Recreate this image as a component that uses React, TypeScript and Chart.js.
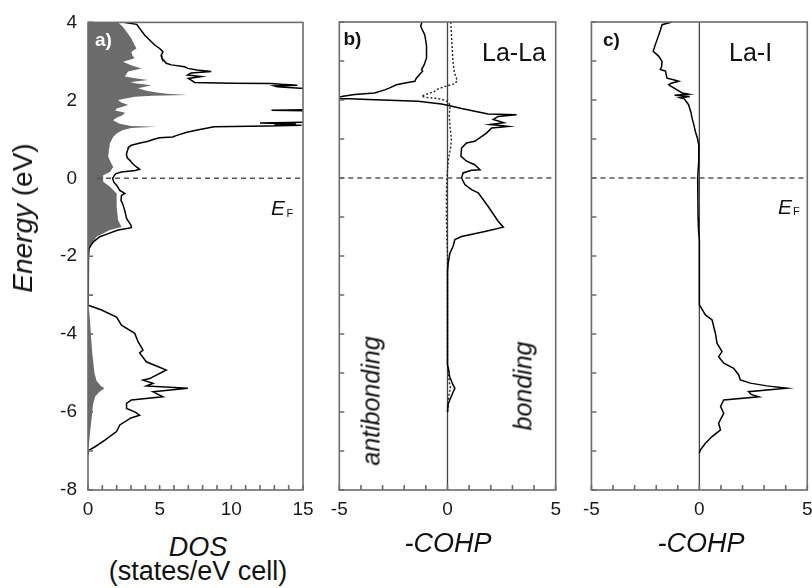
import React, { useEffect, useRef } from "react";
import { Chart, registerables } from "chart.js";

Chart.register(...registerables);

// ---------------- data ----------------
const ENERGY_MIN = -8;
const ENERGY_MAX = 4;
const ENERGY_TICKS = [-8, -6, -4, -2, 0, 2, 4];
const DOS_TICKS = [0, 5, 10, 15];
const COHP_TICKS = [-5, 0, 5];
const FERMI_LEVEL = 0;

// [energy (eV), total DOS]
const DOS_TOTAL: [number, number][] = [
  [4.0, 2.57], [3.95, 3.4], [3.8, 3.7], [3.67, 3.96], [3.55, 4.3], [3.42, 4.65], [3.33, 5.0], [3.25, 5.23],
  [3.15, 5.1], [3.08, 5.16], [2.95, 5.46], [2.91, 5.81], [2.86, 6.74], [2.82, 6.97], [2.78, 7.6], [2.74, 8.6],
  [2.7, 7.2], [2.65, 6.95], [2.61, 7.9], [2.56, 7.0], [2.52, 7.2], [2.46, 7.43], [2.44, 10.0], [2.43, 12.75],
  [2.41, 13.5], [2.39, 14.6], [2.37, 13.0], [2.35, 13.2], [2.31, 14.8], [2.28, 18], [1.8, 18], [1.76, 15.5],
  [1.745, 12.8], [1.73, 15.5], [1.7, 18], [1.45, 18], [1.43, 14], [1.42, 12.0], [1.4, 14.5], [1.38, 13],
  [1.36, 14.9], [1.34, 12.5], [1.32, 8.8], [1.25, 7.8], [1.18, 6.9], [1.1, 6.2], [1.06, 5.9], [1.04, 5.0],
  [1.0, 4.6], [0.95, 4.2], [0.93, 3.96], [0.89, 3.5], [0.85, 3.03], [0.8, 2.85], [0.76, 2.8], [0.65, 2.7],
  [0.59, 2.69], [0.52, 2.75], [0.46, 2.92], [0.38, 3.1], [0.29, 3.38], [0.23, 3.6], [0.2, 3.3], [0.16, 2.34],
  [0.12, 1.95], [0.08, 1.85], [0.0, 1.72], [-0.1, 1.8], [-0.18, 2.0], [-0.31, 2.22], [-0.39, 2.57], [-0.44, 2.34],
  [-0.56, 2.3], [-0.69, 2.45], [-0.85, 2.58], [-1.03, 2.69], [-1.2, 2.99], [-1.27, 3.03], [-1.33, 2.1], [-1.42, 1.41],
  [-1.5, 0.83], [-1.63, 0.37], [-1.8, 0.07], [-2.06, 0.03], [-2.3, 0], [-3.2, 0], [-3.26, 0.05], [-3.38, 0.95],
  [-3.56, 1.99], [-3.77, 2.34], [-3.98, 3.26], [-4.2, 3.5], [-4.41, 3.84], [-4.48, 3.6], [-4.71, 4.07], [-4.92, 5.46],
  [-5.14, 4.3], [-5.18, 3.84], [-5.26, 4.54], [-5.33, 4.07], [-5.39, 6.97], [-5.48, 4.54], [-5.61, 5.23], [-5.69, 3.03],
  [-5.78, 2.69], [-5.91, 2.69], [-6.0, 3.3], [-6.08, 3.6], [-6.15, 3.0], [-6.33, 2.22], [-6.5, 1.99], [-6.72, 1.18],
  [-6.89, 0.49], [-6.99, 0.02], [-7.1, 0],
];

// [energy (eV), La partial DOS] (grey area)
const DOS_LA: [number, number][] = [
  [4.0, 2.1], [3.9, 2.4], [3.76, 2.69], [3.59, 3.03], [3.45, 3.2], [3.33, 3.38], [3.25, 3.03], [3.15, 3.1],
  [3.08, 3.26], [2.99, 2.45], [2.9, 3.0], [2.82, 3.73], [2.74, 2.8], [2.61, 2.57], [2.56, 3.4], [2.52, 4.19],
  [2.47, 3.0], [2.44, 3.26], [2.39, 4.42], [2.31, 3.5], [2.25, 4.0], [2.21, 4.65], [2.17, 5.5], [2.14, 6.96],
  [2.12, 4.5], [2.09, 3.26], [2.01, 2.1], [1.95, 2.3], [1.88, 2.8], [1.79, 2.0], [1.74, 1.9], [1.68, 2.6],
  [1.62, 2.4], [1.55, 2.0], [1.49, 1.75], [1.4, 2.2], [1.34, 3.0], [1.32, 4.77], [1.29, 3.0], [1.23, 2.4],
  [1.15, 2.0], [1.06, 1.75], [0.89, 1.53], [0.7, 1.45], [0.55, 1.41], [0.4, 1.6], [0.29, 1.76], [0.16, 1.53],
  [0.08, 1.06], [-0.09, 1.06], [-0.22, 1.53], [-0.39, 2.0], [-0.74, 2.0], [-1.08, 2.1], [-1.25, 2.34], [-1.33, 1.53],
  [-1.5, 0.6], [-1.67, 0.26], [-1.93, 0.02], [-2.1, 0], [-3.25, 0], [-3.4, 0.08], [-3.7, 0.15], [-4.0, 0.2],
  [-4.5, 0.3], [-5.0, 0.45], [-5.2, 0.6], [-5.33, 0.9], [-5.39, 1.15], [-5.48, 0.8], [-5.6, 0.5], [-5.8, 0.35],
  [-6.0, 0.3], [-6.5, 0.15], [-6.9, 0.05], [-7.0, 0],
];

// [energy (eV), -COHP La-La] (solid)
const COHP_LALA: [number, number][] = [
  [4.0, -1.18], [3.89, -1.24], [3.67, -1.05], [3.4, -0.97], [3.25, -0.97], [3.08, -0.97], [2.9, -1.08], [2.78, -1.2],
  [2.74, -1.15], [2.65, -1.3], [2.56, -1.44], [2.48, -1.51], [2.44, -1.9], [2.39, -2.36], [2.31, -2.67], [2.26, -2.9],
  [2.18, -3.37], [2.14, -4.29], [2.09, -4.9], [2.06, -5.5], [2.04, -5.5], [2.03, -4.5], [2.01, -3.67], [1.97, -1.36],
  [1.9, -0.28], [1.85, 0.11], [1.78, 0.65], [1.71, 1.26], [1.64, 1.88], [1.62, 3.19], [1.58, 2.34], [1.5, 2.11],
  [1.42, 2.6], [1.37, 1.96], [1.35, 2.34], [1.32, 2.81], [1.28, 2.04], [1.15, 1.8], [0.94, 1.26], [0.9, 0.88],
  [0.77, 0.65], [0.56, 0.62], [0.43, 0.88], [0.34, 1.26], [0.21, 1.5], [0.2, 1.11], [0.13, 0.72], [0.0, 0.65],
  [-0.17, 0.8], [-0.3, 1.11], [-0.38, 1.42], [-0.73, 1.88], [-1.11, 2.34], [-1.26, 2.58], [-1.37, 1.73], [-1.5, 0.65],
  [-1.58, 0.34], [-1.75, 0.26], [-1.93, 0.11], [-2.19, 0.03], [-2.4, 0], [-4.8, 0], [-4.9, 0.05], [-5.1, 0.1],
  [-5.3, 0.25], [-5.39, 0.34], [-5.5, 0.25], [-5.7, 0.1], [-5.8, 0.03], [-6.0, 0],
];

// [energy (eV), -COHP La-La] (dotted)
const COHP_LALA_DOTTED: [number, number][] = [
  [4.0, 0.15], [3.5, 0.2], [3.0, 0.25], [2.7, 0.32], [2.5, 0.45], [2.42, 0.35], [2.35, -0.1], [2.28, -0.45],
  [2.22, -0.6], [2.16, -0.9], [2.12, -1.1], [2.09, -1.2], [2.06, -0.9], [2.04, -0.5], [2.0, -0.15], [1.95, 0.05],
  [1.85, 0.12], [1.6, 0.08], [1.3, 0.12], [1.0, 0.18], [0.8, 0.15], [0.5, 0.05], [0.2, 0.0], [0.0, -0.03],
  [-0.5, -0.05], [-1.0, -0.05], [-1.5, -0.03], [-2.0, 0], [-4.8, 0], [-5.3, 0.1], [-5.4, 0.15], [-5.5, 0.08],
  [-6.0, 0],
];

// [energy (eV), -COHP La-I]
const COHP_LAI: [number, number][] = [
  [4.0, -1.27], [3.93, -1.73], [3.8, -1.8], [3.67, -1.88], [3.42, -2.04], [3.25, -2.14], [3.12, -1.88], [2.99, -1.73],
  [2.85, -1.75], [2.78, -1.81], [2.74, -1.57], [2.56, -1.5], [2.52, -1.2], [2.48, -0.96], [2.43, -1.3], [2.39, -1.42],
  [2.3, -1.15], [2.26, -1.03], [2.18, -0.8], [2.15, -0.5], [2.12, -1.15], [2.09, -0.45], [2.06, -0.9], [2.03, -0.7],
  [1.88, -0.5], [1.7, -0.4], [1.54, -0.34], [1.35, -0.25], [1.2, -0.19], [1.0, -0.08], [0.85, -0.03], [0.43, -0.03],
  [0.0, -0.08], [-0.5, -0.07], [-1.0, -0.06], [-1.33, -0.04], [-1.6, 0], [-3.25, 0], [-3.3, 0.05], [-3.51, 0.28],
  [-3.64, 0.59], [-3.98, 0.74], [-4.24, 0.82], [-4.45, 1.05], [-4.58, 0.89], [-4.75, 1.13], [-4.88, 1.59], [-5.05, 1.82],
  [-5.18, 1.9], [-5.26, 2.36], [-5.33, 3.13], [-5.39, 4.06], [-5.48, 2.28], [-5.55, 2.4], [-5.61, 2.75], [-5.69, 1.13],
  [-5.86, 0.98], [-6.03, 1.13], [-6.29, 0.89], [-6.46, 0.98], [-6.63, 0.59], [-6.8, 0.28], [-6.97, 0.05], [-7.05, 0],
];

// ---------------- chart helpers ----------------
const FONT = '"Liberation Sans", Arial, Helvetica, sans-serif';
const FRAME_COLOR = "#6c6c6c";

const toPoints = (rows: [number, number][]) => rows.map(([e, v]) => ({ x: v, y: e }));

const frameTicks = {
  id: "frameTicks",
  afterDatasetsDraw(chart: any, _args: any, opts: any) {
    const { ctx, chartArea: a, scales } = chart;
    const xs = scales.x;
    const ys = scales.y;
    ctx.save();
    ctx.strokeStyle = FRAME_COLOR;
    ctx.lineWidth = 1.6;
    ctx.beginPath();
    for (let v = xs.min; v <= xs.max + 1e-9; v += opts.xStep) {
      const p = xs.getPixelForValue(v);
      ctx.moveTo(p, a.bottom);
      ctx.lineTo(p, a.bottom - 5);
    }
    for (let v = ys.min; v <= ys.max + 1e-9; v += 1) {
      const p = ys.getPixelForValue(v);
      ctx.moveTo(a.left, p);
      ctx.lineTo(a.left + 5, p);
    }
    ctx.stroke();
    ctx.strokeRect(a.left, a.top, a.right - a.left, a.bottom - a.top);
    ctx.restore();
  },
};

function makeConfig(opts: {
  datasets: any[];
  xMin: number;
  xMax: number;
  xTicks: number[];
  showY: boolean;
  yWidth: number;
  padRight: number;
}) {
  const tickFont = { family: FONT, size: 19 };
  return {
    type: "line",
    data: { datasets: opts.datasets },
    plugins: [frameTicks],
    options: {
      animation: false,
      responsive: false,
      indexAxis: "y",
      layout: { padding: { top: 22, right: opts.padRight, left: 0, bottom: 0 } },
      plugins: {
        legend: { display: false },
        tooltip: { enabled: false },
        frameTicks: { xStep: 1 },
      },
      elements: { point: { radius: 0 }, line: { tension: 0 } },
      scales: {
        x: {
          type: "linear",
          position: "bottom",
          min: opts.xMin,
          max: opts.xMax,
          grid: { display: false, drawTicks: false },
          border: { display: false },
          afterBuildTicks: (s: any) => {
            s.ticks = opts.xTicks.map((v) => ({ value: v }));
          },
          afterFit: (s: any) => {
            s.height = 40;
          },
          ticks: {
            padding: 8,
            font: tickFont,
            color: "#1a1a1a",
            maxRotation: 0,
            autoSkip: false,
            callback: (v: any) => String(v),
          },
        },
        y: {
          type: "linear",
          position: "left",
          min: ENERGY_MIN,
          max: ENERGY_MAX,
          grid: { display: false, drawTicks: false },
          border: { display: false },
          afterBuildTicks: (s: any) => {
            s.ticks = ENERGY_TICKS.map((v) => ({ value: v }));
          },
          afterFit: (s: any) => {
            s.width = opts.yWidth;
          },
          ticks: {
            display: opts.showY,
            padding: 11,
            font: tickFont,
            color: "#1a1a1a",
            autoSkip: false,
            callback: (v: any) => String(v),
          },
        },
      },
    },
  };
}

const fermiLine = (xMin: number, xMax: number) => ({
  data: [
    { x: xMin, y: FERMI_LEVEL },
    { x: xMax, y: FERMI_LEVEL },
  ],
  borderColor: "#555555",
  borderWidth: 1.5,
  borderDash: [5, 4],
  pointRadius: 0,
  fill: false,
});

const zeroLine = () => ({
  data: [
    { x: 0, y: ENERGY_MIN },
    { x: 0, y: ENERGY_MAX },
  ],
  borderColor: "#444444",
  borderWidth: 1.3,
  pointRadius: 0,
  fill: false,
});

const curve = (rows: [number, number][], extra: any = {}) => ({
  data: toPoints(rows),
  borderColor: "#000000",
  borderWidth: 1.5,
  pointRadius: 0,
  fill: false,
  ...extra,
});

// ---------------- component ----------------
const txt = (extra: React.CSSProperties): React.CSSProperties => ({
  position: "absolute",
  lineHeight: 1,
  whiteSpace: "nowrap",
  color: "#111",
  fontFamily: FONT,
  ...extra,
});

export default function App() {
  const refA = useRef<HTMLCanvasElement>(null);
  const refB = useRef<HTMLCanvasElement>(null);
  const refC = useRef<HTMLCanvasElement>(null);

  useEffect(() => {
    const charts: Chart[] = [];
    if (refA.current) {
      charts.push(
        new Chart(
          refA.current,
          makeConfig({
            datasets: [
              fermiLine(0, 15),
              curve(DOS_TOTAL),
              curve(DOS_LA, { borderWidth: 0, borderColor: "rgba(0,0,0,0)", fill: "origin", backgroundColor: "#6b6b6b" }),
            ],
            xMin: 0,
            xMax: 15,
            xTicks: DOS_TICKS,
            showY: true,
            yWidth: 88,
            padRight: 27,
          }) as any
        )
      );
    }
    if (refB.current) {
      charts.push(
        new Chart(
          refB.current,
          makeConfig({
            datasets: [
              fermiLine(-5, 5),
              curve(COHP_LALA),
              curve(COHP_LALA_DOTTED, { borderDash: [2, 2], borderWidth: 1.4, borderColor: "#222" }),
              zeroLine(),
            ],
            xMin: -5,
            xMax: 5,
            xTicks: COHP_TICKS,
            showY: false,
            yWidth: 19.3,
            padRight: 24.3,
          }) as any
        )
      );
    }
    if (refC.current) {
      charts.push(
        new Chart(
          refC.current,
          makeConfig({
            datasets: [fermiLine(-5, 5), curve(COHP_LAI), zeroLine()],
            xMin: -5,
            xMax: 5,
            xTicks: COHP_TICKS,
            showY: false,
            yWidth: 16,
            padRight: 17.7,
          }) as any
        )
      );
    }
    return () => charts.forEach((c) => c.destroy());
  }, []);

  return (
    <div
      style={{
        position: "absolute",
        left: 0,
        top: 0,
        width: 812,
        height: 588,
        overflow: "hidden",
        background: "#ffffff",
        fontFamily: FONT,
      }}
    >
      <canvas ref={refA} width={330} height={530} style={{ position: "absolute", left: 0, top: 0 }} />
      <canvas ref={refB} width={260} height={530} style={{ position: "absolute", left: 320, top: 0 }} />
      <canvas ref={refC} width={250} height={530} style={{ position: "absolute", left: 575, top: 0 }} />

      {/* y axis title */}
      <div
        style={txt({
          left: 23,
          top: 218,
          fontSize: 28,
          transform: "translate(-50%, -50%) rotate(-90deg)",
        })}
      >
        <i>Energy</i> (eV)
      </div>

      {/* x axis titles */}
      <div style={txt({ left: 198, top: 533.5, fontSize: 27, fontStyle: "italic", transform: "translateX(-50%)" })}>DOS</div>
      <div style={txt({ left: 198, top: 558, fontSize: 27, transform: "translateX(-50%)" })}>(states/eV cell)</div>
      <div style={txt({ left: 448, top: 530, fontSize: 27, fontStyle: "italic", transform: "translateX(-50%)" })}>-COHP</div>
      <div style={txt({ left: 701, top: 530, fontSize: 27, fontStyle: "italic", transform: "translateX(-50%)" })}>-COHP</div>

      {/* panel labels */}
      <div style={txt({ left: 95, top: 30, fontSize: 19, fontWeight: "bold", color: "#ffffff" })}>a)</div>
      <div style={txt({ left: 343.5, top: 28.5, fontSize: 19, fontWeight: "bold" })}>b)</div>
      <div style={txt({ left: 603, top: 30, fontSize: 19, fontWeight: "bold" })}>c)</div>
      <div style={txt({ left: 482, top: 40, fontSize: 25 })}>La-La</div>
      <div style={txt({ left: 729, top: 40, fontSize: 25 })}>La-I</div>

      {/* bonding labels */}
      <div
        style={txt({
          left: 370.7,
          top: 401,
          fontSize: 25,
          fontStyle: "italic",
          transform: "translate(-50%, -50%) rotate(-90deg)",
        })}
      >
        antibonding
      </div>
      <div
        style={txt({
          left: 522.7,
          top: 386,
          fontSize: 25,
          fontStyle: "italic",
          transform: "translate(-50%, -50%) rotate(-90deg)",
        })}
      >
        bonding
      </div>

      {/* Fermi level labels */}
      <div style={txt({ left: 271, top: 197.3, fontSize: 21, fontStyle: "italic" })}>E</div>
      <div style={txt({ left: 286.5, top: 207.7, fontSize: 11 })}>F</div>
      <div style={txt({ left: 778, top: 195.5, fontSize: 21, fontStyle: "italic" })}>E</div>
      <div style={txt({ left: 793, top: 206, fontSize: 11 })}>F</div>
    </div>
  );
}
